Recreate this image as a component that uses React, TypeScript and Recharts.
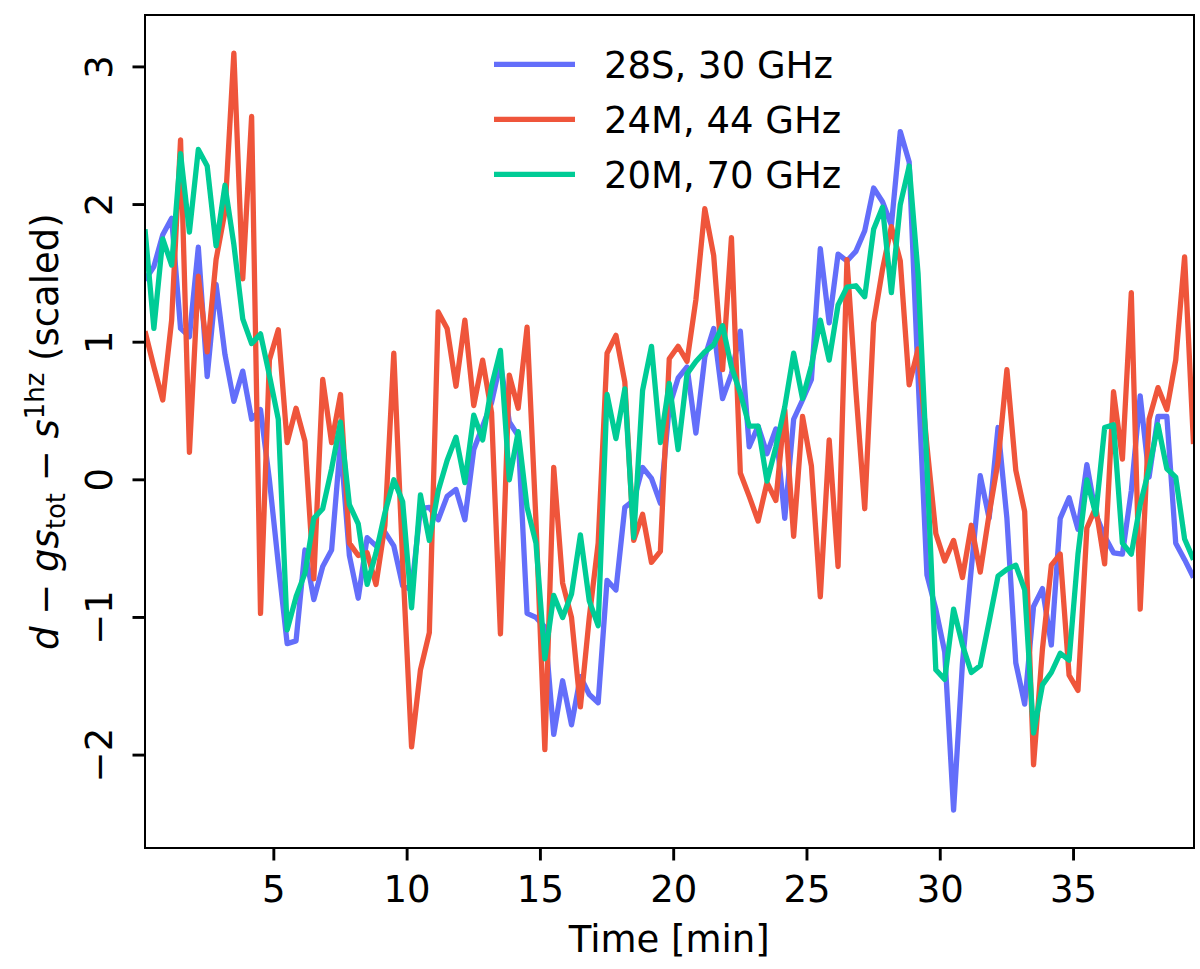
import React from "react";
import { LineChart, Line, XAxis, YAxis } from "recharts";

// Sampling: one point every 20 s, first sample at 10 s
const SAMPLE_STEP_MIN = 1 / 3;
const FIRST_SAMPLE_MIN = 1 / 6;

const blue28S: number[] = [
  1.45, 1.55, 1.78, 1.9, 1.1, 1.04, 1.69, 0.75, 1.42, 0.91,
  0.57, 0.79, 0.44, 0.51, 0.0, -0.61, -1.19, -1.17, -0.51, -0.87,
  -0.63, -0.51, 0.27, -0.55, -0.86, -0.42, -0.48, -0.38, -0.48, -0.77,
  -0.8, -0.21, -0.2, -0.29, -0.12, -0.07, -0.29, 0.22, 0.39, 0.56,
  0.85, 0.42, 0.32, -0.97, -1.0, -1.07, -1.85, -1.46, -1.78, -1.43,
  -1.56, -1.62, -0.73, -0.8, -0.2, -0.15, 0.09, 0.01, -0.17, 0.53,
  0.74, 0.82, 0.34, 0.89, 1.1, 0.59, 0.77, 1.08, 0.24, 0.39,
  0.19, 0.37, -0.28, 0.44, 0.58, 0.73, 1.68, 1.14, 1.64, 1.59,
  1.66, 1.81, 2.12, 2.02, 1.85, 2.53, 2.31, 0.75, -0.69, -0.94,
  -1.25, -2.4, -1.33, -0.64, 0.03, -0.28, 0.38, -0.28, -1.33, -1.63,
  -0.92, -0.79, -1.2, -0.28, -0.13, -0.36, 0.11, -0.25, -0.41, -0.53,
  -0.54, -0.08, 0.61, 0.02, 0.46, 0.46, -0.46, -0.58, -0.71,
];

const red24M: number[] = [
  1.08, 0.82, 0.58, 1.16, 2.47, 0.2, 1.48, 0.93, 1.6, 1.95,
  3.1, 1.46, 2.64, -0.97, 0.87, 1.09, 0.27, 0.52, 0.28, -0.72,
  0.73, 0.27, 0.62, -0.46, -0.55, -0.53, -0.76, -0.33, 0.92, -0.6,
  -1.94, -1.38, -1.11, 1.22, 1.1, 0.68, 1.16, 0.54, 0.87, 0.49,
  -1.12, 0.76, 0.52, 1.11, -0.3, -1.96, 0.09, -0.75, -1.0, -1.65,
  -1.0, -0.46, 0.92, 1.05, 0.71, -0.44, -0.25, -0.6, -0.52, 0.88,
  0.97, 0.86, 1.31, 1.97, 1.63, 0.8, 1.76, 0.05, -0.12, -0.3,
  -0.02, -0.15, 0.51, -0.41, 0.46, 0.1, -0.85, 0.29, -0.63, 1.6,
  0.65, -0.21, 1.14, 1.53, 1.84, 1.59, 0.69, 0.95, 0.25, -0.39,
  -0.59, -0.44, -0.71, -0.33, -0.67, -0.25, 0.13, 0.8, 0.07, -0.23,
  -2.07, -1.23, -0.62, -0.54, -1.42, -1.53, -0.35, -0.2, -0.61, 0.64,
  0.15, 1.36, -0.94, 0.44, 0.67, 0.51, 0.87, 1.62, 0.26,
];

const green20M: number[] = [
  1.82, 1.1, 1.75, 1.56, 2.37, 1.8, 2.4, 2.28, 1.7, 2.14,
  1.71, 1.17, 0.99, 1.06, 0.76, 0.44, -1.09, -0.85, -0.68, -0.28,
  -0.21, 0.08, 0.42, -0.18, -0.32, -0.76, -0.53, -0.24, 0.0, -0.16,
  -0.93, -0.11, -0.44, -0.08, 0.14, 0.31, -0.02, 0.47, 0.29, 0.68,
  0.94, 0.0, 0.35, -0.2, -0.46, -1.3, -0.84, -1.0, -0.83, -0.4,
  -0.88, -1.06, 0.62, 0.3, 0.66, -0.42, 0.65, 0.97, 0.27, 0.7,
  0.22, 0.77, 0.86, 0.93, 0.98, 1.12, 0.82, 0.63, 0.39, 0.39,
  -0.01, 0.24, 0.53, 0.92, 0.59, 0.83, 1.16, 0.87, 1.27, 1.4,
  1.41, 1.33, 1.82, 1.98, 1.36, 2.0, 2.28, 1.5, 0.1, -1.38,
  -1.45, -0.94, -1.2, -1.4, -1.35, -1.03, -0.7, -0.65, -0.62, -0.8,
  -1.84, -1.49, -1.4, -1.26, -1.31, -0.54, 0.0, -0.25, 0.38, 0.4,
  -0.46, -0.54, -0.18, 0.08, 0.4, 0.08, 0.02, -0.43, -0.58,
];

const seriesNames = ["28S, 30 GHz", "24M, 44 GHz", "20M, 70 GHz"];
const seriesColors = ["#636EFA", "#EF553B", "#00CC96"];

const xTicks = [5, 10, 15, 20, 25, 30, 35];
const yTicks = [-2, -1, 0, 1, 2, 3];

const xDomain: [number, number] = [
  FIRST_SAMPLE_MIN,
  FIRST_SAMPLE_MIN + (blue28S.length - 1) * SAMPLE_STEP_MIN,
];
const yDomain: [number, number] = [-2.675, 3.375];

const data = blue28S.map((b, i) => ({
  t: FIRST_SAMPLE_MIN + i * SAMPLE_STEP_MIN,
  blue: b,
  red: red24M[i],
  green: green20M[i],
}));

const FONT = "'DejaVu Sans', sans-serif";
const FS = 37;
const LW = 5.3;

const fmt = (v: number) => (v < 0 ? "\u2212" + Math.abs(v) : String(v));

const XTick = (props: any) => {
  const { x, payload } = props;
  return (
    <text x={x} y={902} textAnchor="middle" fontFamily={FONT} fontSize={FS} fill="#000">
      {fmt(payload.value)}
    </text>
  );
};

const YTick = (props: any) => {
  const { y, payload } = props;
  const bx = 112;
  return (
    <text
      x={bx}
      y={y}
      transform={`rotate(-90, ${bx}, ${y})`}
      textAnchor="middle"
      fontFamily={FONT}
      fontSize={FS}
      fill="#000"
    >
      {fmt(payload.value)}
    </text>
  );
};

export default function App() {
  const plotLeft = 145;
  const plotRight = 1193.5;
  const plotTop = 15.3;
  const plotBottom = 848;
  const spine = 2.9;
  const subFs = FS * 0.7;
  const legendY = [64.3, 119.3, 174.3];
  return (
    <div style={{ position: "absolute", left: 0, top: 0, width: 1200, height: 969, background: "#fff" }}>
      <LineChart
        width={1200}
        height={969}
        data={data}
        margin={{ top: plotTop, right: 1200 - plotRight, bottom: 0, left: 0 }}
      >
        <XAxis
          dataKey="t"
          type="number"
          domain={xDomain}
          ticks={xTicks}
          interval={0}
          allowDataOverflow
          height={969 - plotBottom}
          axisLine={false}
          tickLine={{ stroke: "#000", strokeWidth: spine }}
          tickSize={12.5}
          tick={<XTick />}
        />
        <YAxis
          type="number"
          domain={yDomain}
          ticks={yTicks}
          interval={0}
          allowDataOverflow
          width={plotLeft}
          axisLine={false}
          tickLine={{ stroke: "#000", strokeWidth: spine }}
          tickSize={12.5}
          tick={<YTick />}
        />
        <Line
          dataKey="blue"
          name={seriesNames[0]}
          stroke={seriesColors[0]}
          strokeWidth={LW}
          strokeLinejoin="round"
          dot={false}
          activeDot={false}
          isAnimationActive={false}
          type="linear"
        />
        <Line
          dataKey="red"
          name={seriesNames[1]}
          stroke={seriesColors[1]}
          strokeWidth={LW}
          strokeLinejoin="round"
          dot={false}
          activeDot={false}
          isAnimationActive={false}
          type="linear"
        />
        <Line
          dataKey="green"
          name={seriesNames[2]}
          stroke={seriesColors[2]}
          strokeWidth={LW}
          strokeLinejoin="round"
          dot={false}
          activeDot={false}
          isAnimationActive={false}
          type="linear"
        />
      </LineChart>
      {/* axes frame */}
      <div
        style={{
          position: "absolute",
          left: plotLeft - spine / 2,
          top: plotTop - spine / 2,
          width: plotRight - plotLeft + spine,
          height: plotBottom - plotTop + spine,
          border: `${spine}px solid #000`,
          boxSizing: "border-box",
          pointerEvents: "none",
        }}
      />
      {/* labels and legend */}
      <svg
        width={1200}
        height={969}
        style={{ position: "absolute", left: 0, top: 0, pointerEvents: "none" }}
      >
        <text x={(plotLeft + plotRight) / 2} y={952} textAnchor="middle" fontFamily={FONT} fontSize={FS} fill="#000">
          Time [min]
        </text>
        <text
          x={0}
          y={0}
          transform={`translate(58, ${(plotTop + plotBottom) / 2}) rotate(-90)`}
          textAnchor="middle"
          fontFamily={FONT}
          fontSize={FS}
          fill="#000"
        >
          <tspan fontStyle="italic">d</tspan>
          <tspan>{" \u2212 "}</tspan>
          <tspan fontStyle="italic">gs</tspan>
          <tspan fontSize={subFs} dy={7}>tot</tspan>
          <tspan dy={-7}>{" \u2212 "}</tspan>
          <tspan fontStyle="italic">s</tspan>
          <tspan fontSize={subFs} dy={-14}>1hz</tspan>
          <tspan dy={14}>{" (scaled)"}</tspan>
        </text>
        {seriesNames.map((name, i) => (
          <g key={name}>
            <line x1={494} x2={575} y1={legendY[i]} y2={legendY[i]} stroke={seriesColors[i]} strokeWidth={LW} />
            <text x={604} y={legendY[i] + 14} fontFamily={FONT} fontSize={FS} fill="#000">
              {name}
            </text>
          </g>
        ))}
      </svg>
    </div>
  );
}
